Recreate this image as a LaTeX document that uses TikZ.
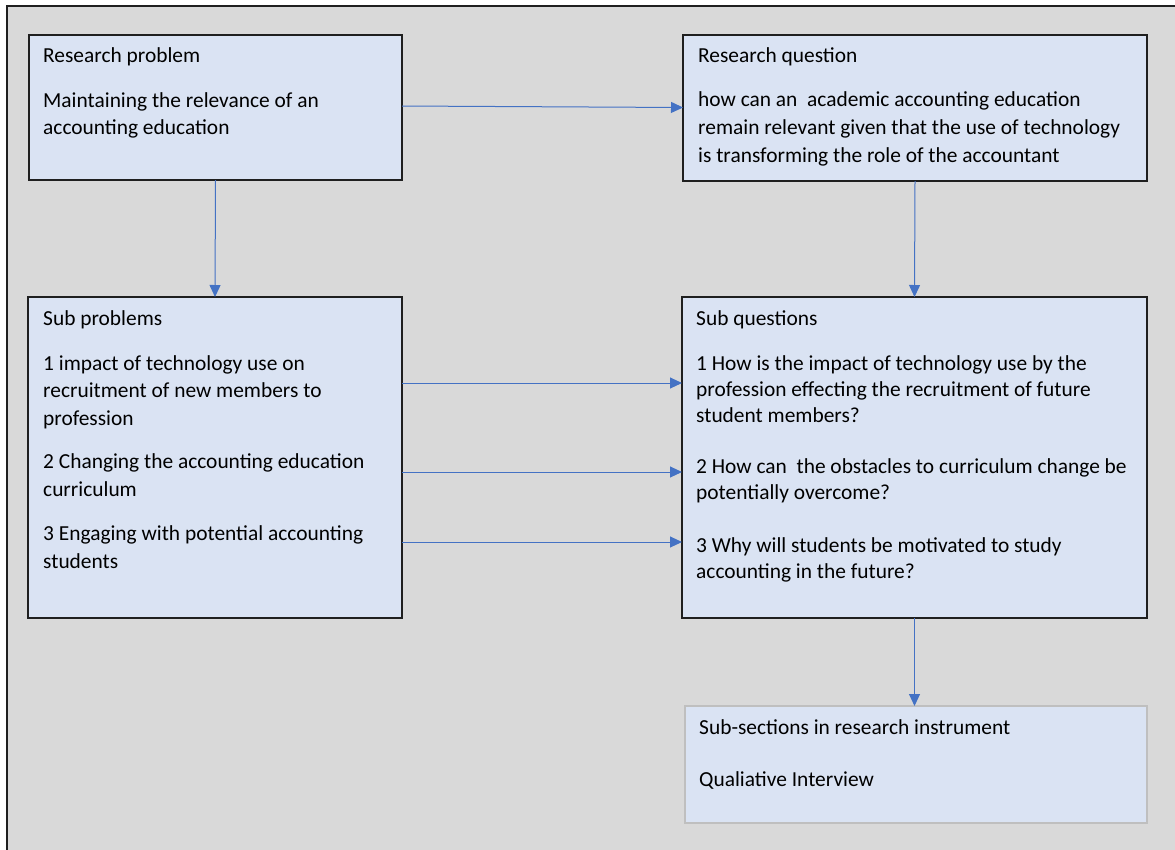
\documentclass[tikz,border=0pt]{standalone}
\usepackage{fontspec}
\setmainfont{Carlito}
\usetikzlibrary{arrows.meta}
\definecolor{pagegray}{HTML}{D9D9D9}
\definecolor{boxfill}{HTML}{DAE3F3}
\definecolor{boxline}{HTML}{1F1F1F}
\definecolor{linkblue}{HTML}{4472C4}
\definecolor{softline}{HTML}{BFBFBF}

\begin{document}
\begin{tikzpicture}[x=1pt,y=-1pt,
  box/.style={draw=boxline, line width=1.5pt, fill=boxfill, anchor=north west,
              inner sep=0pt, outer sep=0pt},
  softbox/.style={box, draw=softline},
  % anchored at the baseline of the last line of each paragraph
  txt/.style={anchor=base west, inner sep=0pt, align=left,
              font=\fontsize{21.4}{28}\selectfont},
  tight/.style={font=\fontsize{21.4}{26}\selectfont},
  link/.style={draw=linkblue, line width=1pt, -{Triangle[length=12pt,width=11pt]}}]

\useasboundingbox (0,0) rectangle (1175,849);
\fill[white] (0,0) rectangle (1175,849);
% grey page frame, running off the right and bottom edges
\begin{scope}
  \clip (0,0) rectangle (1175,849);
  \draw[fill=pagegray, draw=boxline, line width=1.5pt] (7,6) rectangle (1190,870);
\end{scope}

% boxes
\node[box, minimum width=373pt, minimum height=145pt] (rp) at (29,35) {};
\node[box, minimum width=464pt, minimum height=146pt] (rq) at (683,35) {};
\node[box, minimum width=374pt, minimum height=321pt] (sp) at (28,297) {};
\node[box, minimum width=465pt, minimum height=321pt] (sq) at (682,297) {};
\node[softbox, minimum width=462pt, minimum height=117pt] (ss) at (685,706) {};

% heights of the horizontal links
\coordinate (ya) at (0,106);
\coordinate (yb) at (0,107.5);
\coordinate (y1) at (0,383);
\coordinate (y2) at (0,472);
\coordinate (y3) at (0,542);

% links
\draw[link] (rp.east |- ya) -- (rq.west |- yb);
\draw[link] (rp.south) -- (sp.north);
\draw[link] (rq.south) -- (sq.north);
\draw[link] (sp.east |- y1) -- (sq.west |- y1);
\draw[link] (sp.east |- y2) -- (sq.west |- y2);
\draw[link] (sp.east |- y3) -- (sq.west |- y3);
\draw[link] (sq.south) -- (sq.south |- ss.north);

% texts
\node[txt] (rpt) at (43,62) {Research problem};
\node[txt, font=\fontsize{21.4}{27}\selectfont] (rpb) at (43,134) {Maintaining the relevance of an\\accounting education};

\node[txt] (rqt) at (698,62) {Research question};
\node[txt] (rqb) at (698,162) {how can an\ \ academic accounting education\\remain relevant given that the use of technology\\is transforming the role of the accountant};

\node[txt] (spt) at (43,325) {Sub problems};
\node[txt, font=\fontsize{21.4}{27.5}\selectfont] (sp1) at (43,425) {1 impact of technology use on\\recruitment of new members to\\profession};
\node[txt] (sp2) at (43,496.5) {2 Changing the accounting education\\curriculum};
\node[txt] (sp3) at (43,568) {3 Engaging with potential accounting\\students};

\node[txt] (sqt) at (696,325) {Sub questions};
\node[txt, tight] (sq1) at (696,422) {1 How is the impact of technology use by the\\profession effecting the recruitment of future\\student members?};
\node[txt, tight] (sq2) at (696,499) {2 How can\ \ the obstacles to curriculum change be\\potentially overcome?};
\node[txt, tight] (sq3) at (696,578) {3 Why will students be motivated to study\\accounting in the future?};

\node[txt] (sst) at (699,734) {Sub-sections in research instrument};
\node[txt] (ssb) at (699,786) {Qualiative Interview};
\end{tikzpicture}
\end{document}
